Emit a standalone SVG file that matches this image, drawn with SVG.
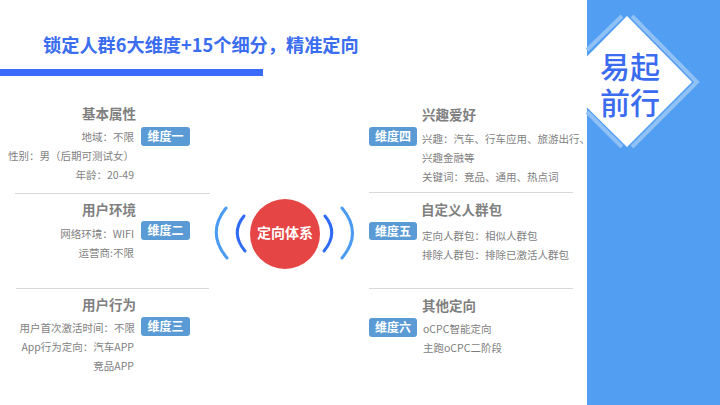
<svg xmlns="http://www.w3.org/2000/svg" width="720" height="405" viewBox="0 0 720 405">
<style>
text{font-family:"Noto Sans CJK SC","Noto Sans",sans-serif}
.h{font-size:13.500px;font-weight:700;fill:#7f7f7f}
.t{font-size:10.500px;fill:#7f7f7f}
.r{text-anchor:end}
.b{font-size:12px;font-weight:700;fill:#fff;text-anchor:middle}
.tag{fill:#5b9bd5}
.d{stroke:#d9d9d9;stroke-width:1;fill:none}
</style>
<rect width="720" height="405" fill="#fff"/>
<g id="panel">
<rect x="587" width="133" height="405" fill="#529ef2"/>
<path d="M587 50L622 16M632 16L697 82L632 147M622 147L587 112" fill="none" stroke="#8fc0f6" stroke-width="4"/>
<path d="M587 56.500L627 16L692 82L627 147L587 107.500Z" fill="#fff"/>
<text font-size="30" font-weight="500" fill="#3b6cf0" text-anchor="middle"><tspan x="630" y="78">易起</tspan><tspan x="630" y="114">前行</tspan></text>
</g>
<g id="title">
<text x="43" y="52" font-size="18.200" font-weight="700" fill="#3a6df0">锁定人群6大维度+15个细分，精准定向</text>
<rect y="69" width="263" height="7" fill="#3a6bfa"/>
</g>
<g id="connectors">
<line class="d" x1="15" y1="193.500" x2="210" y2="193.500"/>
<line class="d" x1="16" y1="288.500" x2="209" y2="288.500"/>
<line class="d" x1="369" y1="192.500" x2="573" y2="192.500"/>
<line class="d" x1="369" y1="288.500" x2="573" y2="288.500"/>
</g>
<g id="center">
<path d="M226 208Q206 233 227 258" fill="none" stroke="#4b9bf2" stroke-width="3" stroke-linecap="round"/>
<path d="M244 216Q230 233 245 251" fill="none" stroke="#2f6bf5" stroke-width="3" stroke-linecap="round"/>
<path d="M325 216Q339 233 324 251" fill="none" stroke="#2f6bf5" stroke-width="3" stroke-linecap="round"/>
<path d="M342 208Q363 233 342 258" fill="none" stroke="#4b9bf2" stroke-width="3" stroke-linecap="round"/>
<circle cx="285" cy="234" r="35" fill="#e64545"/>
<text x="285" y="238" font-size="14" font-weight="700" fill="#fff" text-anchor="middle">定向体系</text>
</g>
<g id="dim1">
<text class="h r" x="136" y="119">基本属性</text>
<text class="t r" x="134" y="141">地域：不限</text>
<text class="t r" x="134" y="160">性别：男（后期可测试女）</text>
<text class="t r" x="134" y="179">年龄：20-49</text>
<rect class="tag" x="141" y="127" width="49" height="19" rx="3"/>
<text class="b" x="165.500" y="141">维度一</text>
</g>
<g id="dim2">
<text class="h r" x="136" y="215">用户环境</text>
<text class="t r" x="134" y="238">网络环境：WIFI</text>
<text class="t r" x="134" y="257">运营商:不限</text>
<rect class="tag" x="141" y="221" width="49" height="19" rx="3"/>
<text class="b" x="165.500" y="235">维度二</text>
</g>
<g id="dim3">
<text class="h r" x="136" y="310">用户行为</text>
<text class="t r" x="135" y="332">用户首次激活时间：不限</text>
<text class="t r" x="134" y="351">App行为定向：汽车APP</text>
<text class="t r" x="134" y="370">竞品APP</text>
<rect class="tag" x="141" y="317" width="49" height="19" rx="3"/>
<text class="b" x="165.500" y="331">维度三</text>
</g>
<g id="dim4">
<text class="h" x="422" y="120">兴趣爱好</text>
<text class="t" x="422" y="143">兴趣：汽车、行车应用、旅游出行、</text>
<text class="t" x="422" y="162">兴趣金融等</text>
<text class="t" x="422" y="181">关键词：竞品、通用、热点词</text>
<rect class="tag" x="369" y="127" width="48" height="19" rx="3"/>
<text class="b" x="393" y="141">维度四</text>
</g>
<g id="dim5">
<text class="h" x="421" y="215">自定义人群包</text>
<text class="t" x="422" y="240">定向人群包：相似人群包</text>
<text class="t" x="422" y="259">排除人群包：排除已激活人群包</text>
<rect class="tag" x="369" y="222" width="48" height="18" rx="3"/>
<text class="b" x="393" y="236">维度五</text>
</g>
<g id="dim6">
<text class="h" x="422" y="311">其他定向</text>
<text class="t" x="423" y="333">oCPC智能定向</text>
<text class="t" x="423" y="352">主跑oCPC二阶段</text>
<rect class="tag" x="369" y="318" width="48" height="19" rx="3"/>
<text class="b" x="393" y="332">维度六</text>
</g>
</svg>
